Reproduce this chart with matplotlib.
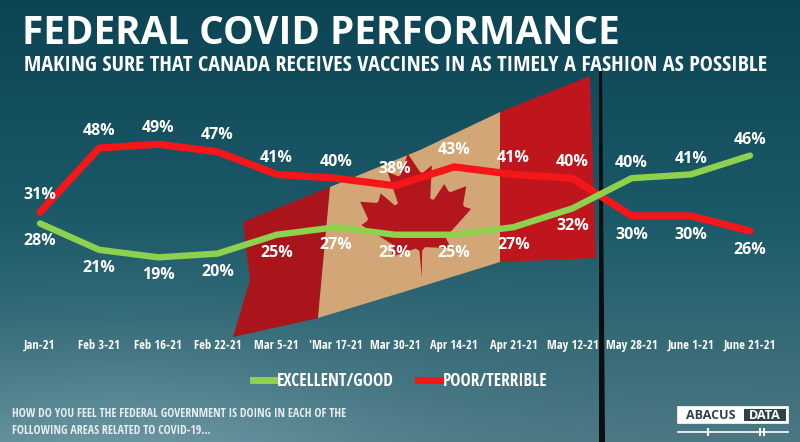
import numpy as np
import matplotlib
matplotlib.use("Agg")
import matplotlib.pyplot as plt
from matplotlib.lines import Line2D
from matplotlib.patches import Polygon, Rectangle
from matplotlib import font_manager

# ------------------------------------------------------------------ data
DATES = ["Jan-21", "Feb 3-21", "Feb 16-21", "Feb 22-21", "Mar 5-21", "'Mar 17-21",
         "Mar 30-21", "Apr 14-21", "Apr 21-21", "May 12-21", "May 28-21",
         "June 1-21", "June 21-21"]
GOOD = [28, 21, 19, 20, 25, 27, 25, 25, 27, 32, 40, 41, 46]      # excellent/good
POOR = [31, 48, 49, 47, 41, 40, 38, 43, 41, 40, 30, 30, 26]      # poor/terrible

TITLE = "FEDERAL COVID PERFORMANCE"
SUBTITLE = "MAKING SURE THAT CANADA RECEIVES VACCINES IN AS TIMELY A FASHION AS POSSIBLE"
NOTE = ("HOW DO YOU FEEL THE FEDERAL GOVERNMENT IS DOING IN EACH OF THE\n"
        "FOLLOWING AREAS RELATED TO COVID-19...")

GREEN = "#8dd14e"
RED = "#f5161a"

W, H = 800, 442


def pick(*names):
    have = {f.name for f in font_manager.fontManager.ttflist}
    for n in names:
        if n in have:
            return n
    return "DejaVu Sans"


BOLD = pick("Open Sans", "Lato", "DejaVu Sans")
NARROW = pick("Open Sans Condensed", "Roboto Condensed", "Barlow Semi Condensed",
              "PT Sans Narrow", "Liberation Sans Narrow", "Archivo Narrow",
              "Fira Sans Condensed", "Encode Sans Condensed", "Asap Condensed",
              "IBM Plex Sans Condensed", "Roboto")


def fit_width(txt, px):
    """shrink/grow a text so it spans px pixels"""
    fig.canvas.draw()
    w = txt.get_window_extent().width
    txt.set_fontsize(txt.get_fontsize() * px / w)


fig = plt.figure(figsize=(W / 100, H / 100), dpi=100)

# ------------------------------------------------------------------ backdrop (sky + flag)
bg = fig.add_axes([0, 0, 1, 1])
bg.set_xlim(0, W)
bg.set_ylim(H, 0)
bg.axis("off")
yy, xx = np.mgrid[0:H, 0:W]
t = yy / H
top = np.array([12, 68, 84]) / 255
mid = np.array([28, 90, 104]) / 255
bot = np.array([76, 120, 132]) / 255
col = np.where(t[..., None] < 0.5,
               top + (mid - top) * (t[..., None] / 0.5),
               mid + (bot - mid) * ((t[..., None] - 0.5) / 0.5))
cloud = np.exp(-(((xx - 120) / 260.0) ** 2 + ((yy - 470) / 120.0) ** 2))
col = col + cloud[..., None] * 0.12
bg.imshow(np.clip(col, 0, 1), extent=(0, W, H, 0), aspect="auto", zorder=0)

bg.add_patch(Polygon([(243, 222), (330, 187), (318, 318), (233, 337), (250, 280)],
                     closed=True, fc="#a9151b", ec="none", zorder=1))
bg.add_patch(Polygon([(330, 187), (420, 150), (500, 112), (500, 262), (410, 290), (318, 318)],
                     closed=True, fc="#d2a677", ec="none", zorder=1))
bg.add_patch(Polygon([(500, 112), (590, 76), (596, 258), (500, 262)],
                     closed=True, fc="#bf161d", ec="none", zorder=1))

# maple leaf (relative path moves of the flag's leaf)
moves = [(45, -863), (-111, -98), (-859, 151), (116, -320), (-20, -73), (-941, -762),
         (212, -99), (34, -79), (-186, -572), (542, 115), (73, -38), (105, -247),
         (423, 454), (111, -57), (-204, -1052), (327, 189), (91, -27), (332, -652),
         (332, 652), (91, 27), (327, -189), (-204, 1052), (111, 57), (423, -454),
         (105, 247), (73, 38), (542, -115), (-186, 572), (34, 79), (212, 99),
         (-941, 762), (-20, 73), (116, 320), (-859, -151), (-111, 98)]
leaf = np.vstack([[-90, 2030], np.array([-90, 2030]) + np.cumsum(moves, axis=0)]).astype(float)
leaf /= 4030.0
ang = np.deg2rad(-8)
rot = np.array([[np.cos(ang), -np.sin(ang)], [np.sin(ang), np.cos(ang)]])
leaf = leaf @ rot.T * np.array([120, 125]) + np.array([416, 215])
bg.add_patch(Polygon(leaf, closed=True, fc="#b3161c", ec="none", zorder=2))

bg.add_patch(Polygon([(599, 66), (602, 66), (605, 442), (599, 442)],
                     closed=True, fc="#0b0f12", ec="none", zorder=3))

# ------------------------------------------------------------------ chart
ax = fig.add_axes([20 / W, (H - 329) / H, 750 / W, 229 / H])
ax.patch.set_alpha(0)
x = np.arange(len(DATES))
ax.plot(x, POOR, color=RED, lw=5.2, solid_joinstyle="round", solid_capstyle="round", zorder=4)
ax.plot(x, GOOD, color=GREEN, lw=4.6, solid_joinstyle="round", solid_capstyle="round", zorder=5)

for i, (g, p) in enumerate(zip(GOOD, POOR)):
    g_up = g > p
    ax.annotate(f"{p}%", (i, p), xytext=(0, -14 if g_up else 12), textcoords="offset points",
                ha="center", va="center", color="white", fontsize=11.5,
                fontweight="bold", family=BOLD, zorder=6)
    ax.annotate(f"{g}%", (i, g), xytext=(0, 11 if g_up else -13), textcoords="offset points",
                ha="center", va="center", color="white", fontsize=11.5,
                fontweight="bold", family=BOLD, zorder=6)

ax.axhline(0, color="white", alpha=0.18, lw=0.8)
ax.set_xlim(-0.338, 12.338)
ax.set_ylim(0, 229 / 3.77)
ax.set_xticks(x)
ax.set_xticklabels(DATES, color="white", fontsize=9, fontweight="bold", family=NARROW)
ax.tick_params(axis="x", length=0, pad=7)
ax.set_yticks([])
for s in ax.spines.values():
    s.set_visible(False)

handles = [Line2D([], [], color=GREEN, lw=5), Line2D([], [], color=RED, lw=5)]
leg = fig.legend(handles, ["EXCELLENT/GOOD", "POOR/TERRIBLE"], loc="center",
                 bbox_to_anchor=(0.5, 1 - 381 / H), ncol=2, frameon=False,
                 handlelength=1.4, handletextpad=0.05, columnspacing=1.4,
                 prop={"family": NARROW, "weight": "bold", "size": 12.3})
for txt in leg.get_texts():
    txt.set_color("white")

# ------------------------------------------------------------------ titles and notes
title = fig.text(22 / W, 1 - 44 / H, TITLE, color="white", fontsize=26, fontweight="bold",
                 family=BOLD, va="baseline", ha="left")
sub = fig.text(24 / W, 1 - 71 / H, SUBTITLE, color="white", fontsize=14, fontweight="bold",
               family=NARROW, va="baseline", ha="left")
note = fig.text(12 / W, 1 - 422 / H, NOTE, color="#e6eef0", fontsize=7, family=NARROW,
                va="center", ha="left", linespacing=1.35)
fit_width(title, 598)
fit_width(sub, 746)
fit_width(note, 334)

# logo
bg.add_patch(Rectangle((678, 407), 110, 16, fc="white", ec="white", lw=1.2, zorder=4))
bg.add_patch(Rectangle((744, 409), 42, 12, fc="#2f4248", ec="none", zorder=5))
bg.text(711, 415.5, "ABACUS", color="#2f4248", fontsize=9, fontweight="bold",
        family=BOLD, ha="center", va="center", zorder=6)
bg.text(765, 415.5, "DATA", color="white", fontsize=9, fontweight="bold",
        family=BOLD, ha="center", va="center", zorder=6)
bg.plot([678, 788], [432, 432], color="white", lw=1.2, zorder=5)
for tx in (708, 760, 764):
    bg.plot([tx, tx], [429, 435], color="white", lw=1.5, zorder=5)

fig.savefig("out.png", dpi=100)
